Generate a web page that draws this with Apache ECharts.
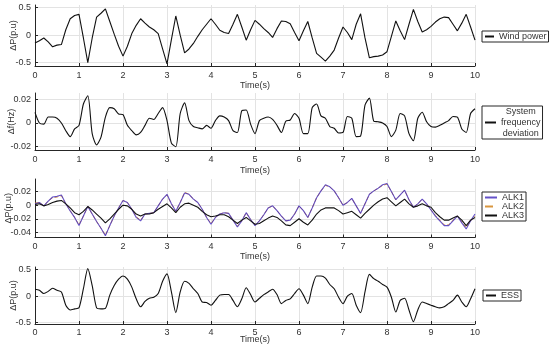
<!DOCTYPE html>
<html>
<head>
<meta charset="utf-8">
<script src="https://cdn.jsdelivr.net/npm/echarts@6/dist/echarts.min.js"></script>
<style>html,body{margin:0;padding:0;background:#fff;}#c{width:550px;height:348px;}</style>
</head>
<body>
<div id="c"></div>
<script>
// time axis (s)
const time = [0,0.1,0.2,0.3,0.4,0.5,0.6,0.7,0.8,0.9,1,1.1,1.2,1.3,1.4,1.5,1.6,1.7,1.8,1.9,2,2.1,2.2,2.3,2.4,2.5,2.6,2.7,2.8,2.9,3,3.1,3.2,3.3,3.4,3.5,3.6,3.7,3.8,3.9,4,4.1,4.2,4.3,4.4,4.5,4.6,4.7,4.8,4.9,5,5.1,5.2,5.3,5.4,5.5,5.6,5.7,5.8,5.9,6,6.1,6.2,6.3,6.4,6.5,6.6,6.7,6.8,6.9,7,7.1,7.2,7.3,7.4,7.5,7.6,7.7,7.8,7.9,8,8.1,8.2,8.3,8.4,8.5,8.6,8.7,8.8,8.9,9,9.1,9.2,9.3,9.4,9.5,9.6,9.7,9.8,9.9,10];

// Panel 1: wind power (p.u)
const windPower = [-0.14,-0.10,-0.05,-0.12,-0.21,-0.18,-0.17,0.10,0.30,0.36,0.38,-0.05,-0.50,-0.05,0.33,0.40,0.48,0.25,0.02,-0.20,-0.38,-0.20,0.03,0.18,0.30,0.22,0.15,0.10,0.03,-0.25,-0.52,-0.08,0.35,0.00,-0.32,-0.25,-0.15,-0.02,0.10,0.20,0.30,0.20,0.09,0.05,0.03,0.20,0.38,0.15,-0.09,0.10,0.27,0.20,0.12,0.05,-0.04,0.12,0.26,0.25,0.21,0.05,-0.10,0.08,0.25,-0.05,-0.33,-0.40,-0.47,-0.38,-0.27,-0.05,0.15,0.05,-0.08,0.20,0.39,-0.05,-0.41,-0.39,-0.38,-0.36,-0.30,-0.02,0.26,0.08,-0.08,0.20,0.47,0.25,0.06,0.10,0.16,0.24,0.30,0.33,0.32,0.20,0.08,0.22,0.38,0.15,-0.09];

// Panel 2: system frequency deviation (Hz)
const freqDev = [0.009,0.0,-0.001,0.005,0.005,0.004,0.0,-0.0065,-0.0115,-0.005,-0.002,0.016,0.023,-0.009,-0.0185,-0.012,0.005,0.013,0.012,0.0076,0.007,-0.002,-0.0065,-0.01,-0.008,-0.002,0.004,0.003,0.008,0.013,0.002,-0.017,-0.02,0.008,0.017,0.002,-0.003,-0.004,-0.005,-0.002,-0.0045,0.002,0.006,0.005,0.002,-0.0065,-0.008,0.0104,0.011,-0.001,-0.009,0.002,0.004,0.005,0.003,-0.002,-0.008,0.0015,0.0025,0.008,0.004,-0.009,-0.009,0.013,0.016,0.006,0.004,-0.003,-0.0045,-0.0085,-0.008,0.0055,0.004,-0.0115,-0.011,0.015,0.021,0.0015,0.001,0.0,-0.003,-0.0115,-0.006,0.008,0.006,-0.009,-0.015,0.004,0.009,0.001,-0.003,-0.0035,-0.002,0.0,0.002,0.0055,0.005,-0.005,-0.008,0.008,0.012];

// Panel 3: electrolyzers (p.u)
const alk1 = [0.002,0.004,-0.001,0.006,0.012,0.013,0.015,0.002,-0.0085,-0.018,-0.03,-0.016,-0.002,-0.013,-0.024,-0.034,-0.045,-0.030,-0.016,-0.004,0.007,0.004,-0.006,-0.018,-0.023,-0.013,-0.012,-0.011,-0.001,0.009,0.016,0.002,-0.009,0.004,0.018,0.016,0.009,0.004,-0.006,-0.018,-0.028,-0.018,-0.013,-0.011,-0.012,-0.022,-0.032,-0.023,-0.011,-0.021,-0.03,-0.023,-0.014,-0.004,-0.001,-0.008,-0.016,-0.023,-0.022,-0.013,-0.001,-0.008,-0.018,-0.004,0.011,0.021,0.030,0.027,0.021,0.011,0.0,0.004,0.010,-0.001,-0.012,0.002,0.016,0.021,0.025,0.030,0.032,0.020,0.008,0.015,0.022,0.008,-0.003,0.002,0.009,0.002,-0.007,-0.016,-0.023,-0.030,-0.030,-0.023,-0.016,-0.026,-0.035,-0.023,-0.013];
const alk2 = [0.003,0.004,-0.001,0.006,0.011,0.012,0.014,0.002,-0.008,-0.018,-0.029,-0.016,-0.002,-0.013,-0.024,-0.034,-0.044,-0.030,-0.016,-0.004,0.007,0.004,-0.006,-0.017,-0.022,-0.013,-0.012,-0.011,-0.001,0.009,0.015,0.002,-0.009,0.004,0.019,0.016,0.009,0.004,-0.006,-0.018,-0.027,-0.018,-0.013,-0.011,-0.012,-0.022,-0.031,-0.023,-0.011,-0.021,-0.029,-0.023,-0.014,-0.004,-0.001,-0.008,-0.016,-0.023,-0.022,-0.013,-0.001,-0.008,-0.018,-0.004,0.011,0.021,0.029,0.027,0.021,0.011,0.0,0.004,0.010,-0.001,-0.012,0.002,0.016,0.021,0.025,0.029,0.031,0.020,0.008,0.015,0.022,0.008,-0.003,0.002,0.009,0.002,-0.007,-0.015,-0.022,-0.029,-0.029,-0.022,-0.016,-0.025,-0.033,-0.023,-0.016];
const alk3 = [0.001,0.002,-0.001,0.001,0.004,0.006,0.007,0.002,-0.004,-0.011,-0.014,-0.009,-0.002,-0.007,-0.013,-0.019,-0.026,-0.020,-0.013,-0.006,0.0,-0.001,-0.006,-0.013,-0.016,-0.013,-0.013,-0.011,-0.006,-0.002,0.002,-0.004,-0.011,-0.003,0.002,0.003,0.0,-0.003,-0.009,-0.014,-0.017,-0.016,-0.014,-0.014,-0.017,-0.022,-0.027,-0.022,-0.018,-0.023,-0.028,-0.027,-0.023,-0.019,-0.016,-0.018,-0.023,-0.029,-0.030,-0.025,-0.020,-0.025,-0.029,-0.022,-0.013,-0.007,-0.004,-0.004,-0.004,-0.008,-0.013,-0.011,-0.009,-0.014,-0.019,-0.012,-0.006,0.0,0.005,0.009,0.011,0.005,-0.001,0.004,0.009,0.002,-0.003,-0.001,0.002,-0.001,-0.003,-0.011,-0.017,-0.022,-0.022,-0.019,-0.016,-0.022,-0.030,-0.022,-0.018];

// Panel 4: energy storage system (p.u)
const ess = [0.13,0.11,0.05,0.09,0.15,0.11,0.08,-0.17,-0.26,-0.24,-0.22,0.14,0.52,0.20,-0.22,-0.24,-0.23,0.02,0.20,0.32,0.38,0.32,0.17,-0.05,-0.20,-0.10,-0.04,-0.02,0.05,0.28,0.42,0.08,-0.31,0.08,0.28,0.24,0.14,0.05,-0.11,-0.12,-0.17,-0.08,0.02,0.03,0.03,-0.08,-0.20,-0.05,0.16,0.03,-0.11,-0.04,0.03,0.08,0.13,0.03,-0.14,-0.08,-0.05,0.05,0.14,0.02,-0.14,0.17,0.38,0.38,0.34,0.22,0.14,-0.02,-0.14,0.0,0.05,-0.17,-0.31,0.08,0.41,0.33,0.28,0.22,0.17,-0.02,-0.30,-0.08,-0.04,-0.26,-0.48,-0.26,-0.11,-0.14,-0.17,-0.20,-0.22,-0.20,-0.14,-0.08,0.02,-0.11,-0.20,-0.05,0.14];

// tick labels
const yTicks1 = [-0.5,0,0.5];
const yTicks2 = [-0.02,0,0.02];
const yTicks3 = [-0.04,-0.02,0,0.02];
const yTicks4 = [-0.5,0,0.5];

const FONT = 'Liberation Sans, Arial, sans-serif';
const TXT = '#333333';
const pair = arr => arr.map((v, i) => [time[i], v]);

const grids = [
  {left: 35, width: 440, top: 5, height: 61},
  {left: 35, width: 440, top: 93, height: 57},
  {left: 35, width: 440, top: 179, height: 58.5},
  {left: 35, width: 440, top: 267, height: 57}
].map(g => Object.assign(g, {containLabel: false, outerBoundsMode: 'none'}));
const xNameGaps = [15, 16, 15, 11];
const xLabelMargins = [5, 5, 5, 4];
const yNameGaps = [17, 18.5, 21.5, 17];

const xAxes = grids.map((g, i) => ({
  gridIndex: i, type: 'value', min: 0, max: 10, interval: 1,
  name: 'Time(s)', nameLocation: 'middle', nameGap: xNameGaps[i], nameMoveOverlap: false,
  nameTextStyle: {fontSize: 9, color: TXT, fontFamily: FONT},
  axisLine: {show: true, onZero: false, lineStyle: {color: '#262626', width: 1}},
  axisTick: {show: true, inside: true, length: 3, lineStyle: {color: '#262626'}},
  axisLabel: {fontSize: 9, color: TXT, fontFamily: FONT, margin: xLabelMargins[i]},
  splitLine: {show: true, lineStyle: {color: '#e3e3e3', width: 1}}
}));

function yAxis(i, min, max, ticks, name) {
  return {
    gridIndex: i, type: 'value', min: min, max: max,
    name: name, nameLocation: 'middle', nameGap: yNameGaps[i], nameRotate: 90, nameMoveOverlap: false,
    nameTextStyle: {fontSize: 9, color: TXT, fontFamily: FONT},
    axisLine: {show: true, onZero: false, lineStyle: {color: '#262626', width: 1}},
    axisTick: {show: true, inside: true, length: 3, customValues: ticks, lineStyle: {color: '#262626'}},
    axisLabel: {fontSize: 9, color: TXT, fontFamily: FONT, margin: 4, customValues: ticks},
    splitLine: {show: true, lineStyle: {color: '#e3e3e3', width: 1}}
  };
}
const yAxes = [
  yAxis(0, -0.56, 0.55, yTicks1, 'ΔP(p.u)'),
  yAxis(1, -0.0228, 0.0253, yTicks2, 'Δf(Hz)'),
  yAxis(2, -0.0475, 0.0385, yTicks3, 'ΔP(p.u)'),
  yAxis(3, -0.525, 0.55, yTicks4, 'ΔP(p.u)')
];

function line(name, data, idx, color, width, dash, smooth, z, opacity) {
  return {
    name: name, type: 'line', xAxisIndex: idx, yAxisIndex: idx,
    data: pair(data), symbol: 'none', smooth: smooth || false, z: z || 2,
    lineStyle: {color: color, width: width, type: dash || 'solid', opacity: opacity == null ? 1 : opacity},
    itemStyle: {color: color}
  };
}

const legendBase = {
  orient: 'vertical', selectedMode: false, backgroundColor: '#fff',
  borderColor: '#262626', borderWidth: 1, borderRadius: 0,
  itemGap: 0, itemHeight: 9,
  itemStyle: {opacity: 0, borderWidth: 0},
  textStyle: {fontSize: 9, color: TXT, fontFamily: FONT}
};

const option = {
  animation: false,
  backgroundColor: '#fff',
  grid: grids,
  xAxis: xAxes,
  yAxis: yAxes,
  legend: [
    Object.assign({}, legendBase, {data: ['Wind power'], left: 482, top: 31, padding: [1, 2], itemWidth: 9}),
    Object.assign({}, legendBase, {data: ['System frequency deviation'], left: 482, top: 106, padding: [1, 2], itemWidth: 11,
      formatter: () => '{a|System}\n{a|frequency}\n{a|deviation}',
      textStyle: {fontSize: 9, color: TXT, fontFamily: FONT, rich: {a: {fontSize: 9, lineHeight: 11, align: 'center', color: TXT, fontFamily: FONT}}}}),
    Object.assign({}, legendBase, {data: ['ALK1', 'ALK2', 'ALK3'], left: 482, top: 192, padding: [1, 2], itemWidth: 12, itemHeight: 10}),
    Object.assign({}, legendBase, {data: ['ESS'], left: 483, top: 290, padding: [1, 2], itemWidth: 10})
  ],
  series: [
    line('Wind power', windPower, 0, '#111111', 1.1),
    line('System frequency deviation', freqDev, 1, '#111111', 1.1, 'solid', 0.25),
    line('ALK1', alk1, 2, '#4a34c0', 1.1, 'solid', false, 3, 0.85),
    line('ALK2', alk2, 2, '#d9963f', 1, 'dashed', false, 2),
    line('ALK3', alk3, 2, '#111111', 1.1, 'solid', false, 4),
    line('ESS', ess, 3, '#111111', 1.1, 'solid', 0.25)
  ]
};

const chart = echarts.init(document.getElementById('c'), null, {renderer: 'canvas'});
chart.setOption(option);
</script>
</body>
</html>
